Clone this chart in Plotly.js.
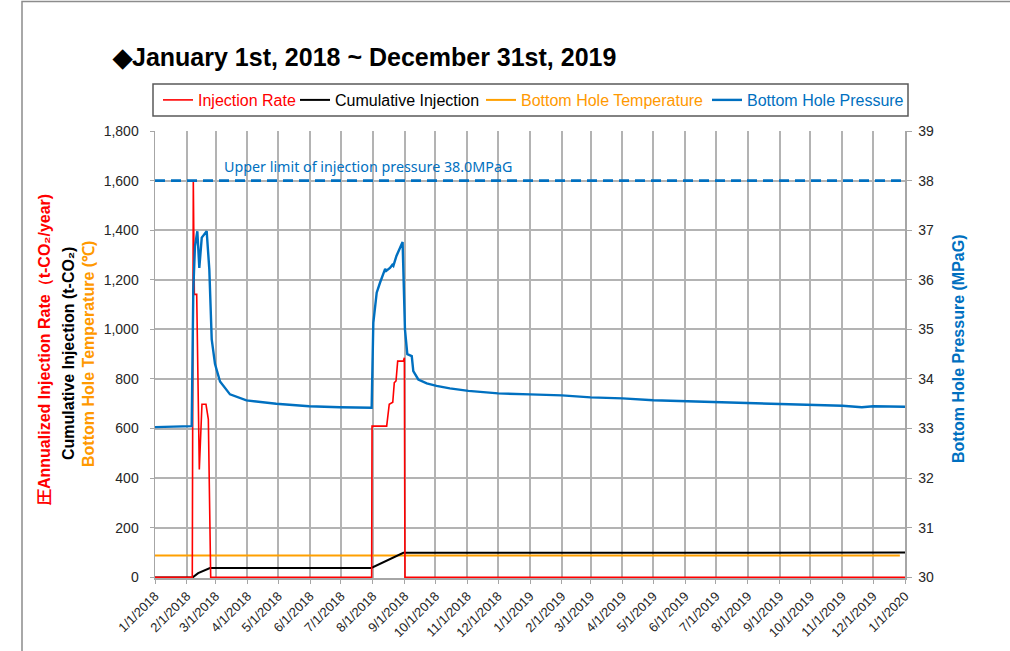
<!DOCTYPE html>
<html>
<head>
<meta charset="utf-8">
<script src="https://cdn.plot.ly/plotly-3.0.1.min.js"></script>
<style>html,body{margin:0;padding:0;background:#fff;}#chart{width:1010px;height:651px;}</style>
</head>
<body>
<div id="chart"></div>
<script>
// ---- Data ----
const seriesNames = ['Injection Rate', 'Cumulative Injection', 'Bottom Hole Temperature', 'Bottom Hole Pressure'];

const rateDates = ['2018-01-01','2018-02-06 07:00','2018-02-07 07:00','2018-02-08 07:00','2018-02-10 14:00','2018-02-13 03:00','2018-02-15 17:00','2018-02-19 15:00','2018-02-21 22:00','2018-02-24 05:00','2018-07-30 21:00','2018-07-31 06:00','2018-08-14 12:00','2018-08-17','2018-08-20 10:00','2018-08-21 22:00','2018-08-23 14:00','2018-08-25 05:00','2018-08-30 17:00','2018-08-31 17:00','2018-09-01 07:00','2020-01-01'];
const rateValues = [0,0,1600,1141,1141,435,698,698,637,0,0,610,610,698,706,785,792,872,872,886,0,0];

const cumDates = ['2018-01-01','2018-02-06 17:00','2018-02-12','2018-02-23 12:00','2018-07-30 12:00','2018-08-30 17:00','2020-01-01'];
const cumValues = [0,0,17,38,38,99,100];

const tempDates = ['2018-01-01','2019-12-27'];
const tempValues = [88,88];

const pressureDates = ['2018-01-01','2018-02-05 17:00','2018-02-07 07:00','2018-02-08 22:00','2018-02-11 05:00','2018-02-13 03:00','2018-02-15 12:00','2018-02-20 07:00','2018-02-22 21:00','2018-02-25 05:00','2018-02-28 10:00','2018-03-05 07:00','2018-03-15','2018-03-31','2018-04-29','2018-05-31','2018-06-30','2018-07-30 21:00','2018-08-01 12:00','2018-08-04 19:00','2018-08-08','2018-08-11','2018-08-13','2018-08-14','2018-08-17 17:00','2018-08-20','2018-08-21','2018-08-24','2018-08-30','2018-09-01 07:00','2018-09-03 14:00','2018-09-07 22:00','2018-09-09 10:00','2018-09-14 07:00','2018-09-22 12:00','2018-10-02','2018-10-15','2018-11-02','2018-12-01','2019-01-01','2019-02-01','2019-03-01','2019-04-01','2019-05-01','2019-06-01','2019-07-01','2019-08-01','2019-09-01','2019-10-01','2019-11-01','2019-11-20','2019-12-01','2020-01-01'];
const pressureValues = [33.03,33.05,35.8,36.68,36.98,36.24,36.85,36.98,36.21,34.8,34.3,33.95,33.69,33.57,33.50,33.45,33.43,33.42,35.13,35.74,35.94,36.11,36.22,36.18,36.24,36.30,36.28,36.48,36.76,35.0,34.5,34.46,34.16,33.99,33.91,33.86,33.81,33.76,33.71,33.69,33.67,33.63,33.61,33.57,33.55,33.53,33.51,33.49,33.47,33.46,33.43,33.45,33.44];

const limitDates = ['2018-01-01','2020-01-01'];
const limitValues = [38,38];
const limitLabel = 'Upper limit of injection pressure 38.0MPaG';

const monthTicks = ['2018-01-01','2018-02-01','2018-03-01','2018-04-01','2018-05-01','2018-06-01','2018-07-01','2018-08-01','2018-09-01','2018-10-01','2018-11-01','2018-12-01','2019-01-01','2019-02-01','2019-03-01','2019-04-01','2019-05-01','2019-06-01','2019-07-01','2019-08-01','2019-09-01','2019-10-01','2019-11-01','2019-12-01','2020-01-01'];
const monthLabels = ['1/1/2018','2/1/2018','3/1/2018','4/1/2018','5/1/2018','6/1/2018','7/1/2018','8/1/2018','9/1/2018','10/1/2018','11/1/2018','12/1/2018','1/1/2019','2/1/2019','3/1/2019','4/1/2019','5/1/2019','6/1/2019','7/1/2019','8/1/2019','9/1/2019','10/1/2019','11/1/2019','12/1/2019','1/1/2020'];

// ---- Styles ----
const RED = '#ff0000', BLACK = '#000000', ORANGE = '#ffa000', BLUE = '#0070c0';
const ORANGE_TXT = '#ff9900';
const FONT = 'Liberation Sans, Arial, sans-serif';
const GRID = '#b3b3b3';
const AXIS = '#a6a6a6';

function lg(name, color) { return '<span style="color:' + color + '">' + name + '</span>'; }

const traces = [
  {x: tempDates, y: tempValues, type: 'scatter', mode: 'lines', name: lg(seriesNames[2], ORANGE_TXT), legend: 'legend3',
   line: {color: ORANGE, width: 2}, yaxis: 'y'},
  {x: cumDates, y: cumValues, type: 'scatter', mode: 'lines', name: lg(seriesNames[1], BLACK), legend: 'legend2',
   line: {color: BLACK, width: 2}, yaxis: 'y'},
  {x: rateDates, y: rateValues, type: 'scatter', mode: 'lines', name: lg(seriesNames[0], RED), legend: 'legend',
   line: {color: RED, width: 1.6}, yaxis: 'y'},
  {x: pressureDates, y: pressureValues, type: 'scatter', mode: 'lines', name: lg(seriesNames[3], BLUE), legend: 'legend4',
   line: {color: BLUE, width: 2.4}, yaxis: 'y2'},
  {x: limitDates, y: limitValues, type: 'scatter', mode: 'lines', showlegend: false,
   line: {color: BLUE, width: 2.6, dash: '10px,6px'}, yaxis: 'y2'}
];

const tickfont = {family: FONT, size: 14, color: '#262626'};
const yPad = 2.5; // small padding below zero so the zero-valued lines stay visible

function legendAt(px) {
  return {orientation: 'h', x: (px - 5 - 155) / 750, xanchor: 'left', y: (578 - 100) / 447, yanchor: 'middle',
          font: {family: FONT, size: 16, color: '#000'}, bgcolor: 'rgba(0,0,0,0)', borderwidth: 0};
}

const layout = {
  width: 1010, height: 651,
  margin: {l: 155, r: 105, t: 131, b: 73, pad: 0},
  paper_bgcolor: '#ffffff', plot_bgcolor: '#ffffff',
  font: {family: FONT, color: '#262626'},
  showlegend: true,
  title: {text: '<b>◆January 1st, 2018 ~ December 31st, 2019</b>', font: {family: FONT, size: 25, color: '#000'},
          xref: 'container', yref: 'container', x: 113/1010, xanchor: 'left', y: 1 - 57/651, yanchor: 'middle'},
  legend: legendAt(163),
  legend2: legendAt(300),
  legend3: legendAt(486),
  legend4: legendAt(712),
  xaxis: {type: 'date', range: ['2018-01-01', '2020-01-01'], tickmode: 'array', tickvals: monthTicks, ticktext: monthLabels,
          tickangle: -45, tickfont: {family: FONT, size: 13, color: '#262626'},
          showgrid: true, gridcolor: GRID, gridwidth: 2, zeroline: false,
          showline: true, linecolor: AXIS, linewidth: 1.5, ticks: 'outside', ticklen: 4, tickcolor: AXIS,
          layer: 'below traces', fixedrange: true},
  yaxis: {range: [-yPad, 1800], tickmode: 'array', tickvals: [0,200,400,600,800,1000,1200,1400,1600,1800], tickformat: ',d', tickfont: tickfont,
          showgrid: true, gridcolor: GRID, gridwidth: 2, zeroline: false,
          showline: true, linecolor: AXIS, linewidth: 1.5, ticks: 'outside', ticklen: 4, tickcolor: AXIS,
          ticklabelstandoff: 8, layer: 'below traces', fixedrange: true},
  yaxis2: {overlaying: 'y', side: 'right', range: [30 - yPad/200, 39], tickmode: 'array', tickvals: [30,31,32,33,34,35,36,37,38,39], tickfont: tickfont,
           showgrid: false, zeroline: false, showline: true, linecolor: AXIS, linewidth: 1.5,
           ticks: 'outside', ticklen: 5, tickcolor: AXIS, ticklabelstandoff: 4, layer: 'below traces', fixedrange: true},
  shapes: [
    {type: 'rect', xref: 'paper', yref: 'paper', x0: (22-155)/750, x1: (1030-155)/750, y0: (578-680)/447, y1: (578-1.5)/447,
     line: {color: '#8c8c8c', width: 1.5}, fillcolor: 'rgba(0,0,0,0)', layer: 'below'},
    {type: 'rect', xref: 'paper', yref: 'paper', x0: (153-155)/750, x1: (908-155)/750, y0: (578-116)/447, y1: (578-84)/447,
     line: {color: '#595959', width: 1.5}, fillcolor: 'rgba(0,0,0,0)', layer: 'below'}
  ],
  annotations: [
    {text: limitLabel, xref: 'paper', yref: 'paper', x: (222-155)/750, xanchor: 'left', y: (578-166)/447, yanchor: 'middle',
     showarrow: false, font: {family: 'Noto Sans, Open Sans, sans-serif', size: 14.3, color: BLUE}},
    {text: '<b>圧Annualized Injection Rate（t-CO₂/year)</b>', xref: 'paper', yref: 'paper', x: (45-155)/750, y: (578-350)/447,
     xanchor: 'center', yanchor: 'middle', textangle: -90, showarrow: false, font: {family: FONT, size: 16, color: RED}},
    {text: '<b>Cumulative Injection (t-CO₂)</b>', xref: 'paper', yref: 'paper', x: (68-155)/750, y: (578-354)/447,
     xanchor: 'center', yanchor: 'middle', textangle: -90, showarrow: false, font: {family: FONT, size: 16, color: BLACK}},
    {text: '<b>Bottom Hole Temperature (℃)</b>', xref: 'paper', yref: 'paper', x: (88-155)/750, y: (578-354)/447,
     xanchor: 'center', yanchor: 'middle', textangle: -90, showarrow: false, font: {family: FONT, size: 16, color: ORANGE_TXT}},
    {text: '<b>Bottom Hole Pressure (MPaG)</b>', xref: 'paper', yref: 'paper', x: (958-155)/750, y: (578-349)/447,
     xanchor: 'center', yanchor: 'middle', textangle: -90, showarrow: false, font: {family: FONT, size: 16, color: BLUE}}
  ]
};

Plotly.newPlot('chart', traces, layout, {displayModeBar: false, staticPlot: true});
</script>
</body>
</html>
